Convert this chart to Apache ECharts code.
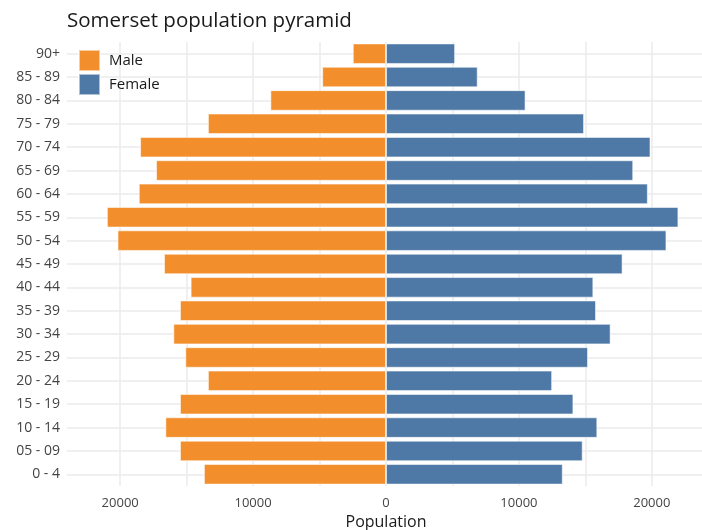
<!DOCTYPE html>
<html>
<head>
<meta charset="utf-8">
<script src="https://cdn.jsdelivr.net/npm/echarts@6/dist/echarts.min.js"></script>
<style>html,body{margin:0;padding:0;background:#fff}#c{width:702px;height:530px}</style>
</head>
<body>
<div id="c"></div>
<script>
const categories = ['0 - 4','05 - 09','10 - 14','15 - 19','20 - 24','25 - 29','30 - 34','35 - 39','40 - 44','45 - 49','50 - 54','55 - 59','60 - 64','65 - 69','70 - 74','75 - 79','80 - 84','85 - 89','90+'];
const male =   [13700,15500,16600,15500,13400,15100,16000,15500,14700,16700,20200,21000,18600,17300,18500,13400,8700,4800,2500];
const female = [13300,14800,15900,14100,12500,15200,16900,15800,15600,17800,21100,22000,19700,18600,19900,14900,10500,6900,5200];
const gridTicks = [-20000,-15000,-10000,-5000,0,5000,10000,15000,20000];
const labelTicks = [-20000,-10000,0,10000,20000];

const font = 'Open Sans';
const chart = echarts.init(document.getElementById('c'));
chart.setOption({
  animation: false,
  textStyle: {fontFamily: font},
  title: {text: 'Somerset population pyramid', left: 62, top: 6,
    textStyle: {fontFamily: font, fontSize: 20.5, fontWeight: 'normal', color: '#1a1a1a'}},
  legend: {orient: 'vertical', left: 73, top: 44, itemWidth: 21, itemHeight: 21, itemGap: 1,
    icon: 'rect', data: ['Male','Female'],
    textStyle: {fontFamily: font, fontSize: 15, color: '#1a1a1a', padding: [0,0,0,4]}},
  grid: {left: 67, right: -3, top: 42, bottom: 44, containLabel: false, outerBoundsMode: 'none'},
  xAxis: {type: 'value', min: -24000, max: 24000,
    name: 'Population', nameLocation: 'middle', nameGap: 28,
    nameTextStyle: {fontFamily: font, fontSize: 16, color: '#1a1a1a'},
    axisLine: {show: false},
    axisTick: {show: false, customValues: gridTicks},
    axisLabel: {customValues: labelTicks, margin: 11, fontSize: 13, color: '#444',
      formatter: v => String(Math.abs(v))},
    splitLine: {show: true, lineStyle: {color: '#ebebeb', width: 1.5}}},
  yAxis: {type: 'category', data: categories,
    axisLine: {show: false}, axisTick: {show: false},
    axisLabel: {fontSize: 14, color: '#444', margin: 7},
    splitLine: {show: false}},
  series: [
    {name: 'Male', type: 'bar', data: male.map(v => -v), barWidth: '88%', barGap: '-100%',
     itemStyle: {color: '#F28E2B', borderColor: 'rgba(255,255,255,0.55)', borderWidth: 1},
     markLine: {silent: true, symbol: 'none', label: {show: false},
       lineStyle: {color: '#ebebeb', width: 1.5, type: 'solid'},
       data: categories.map(c => ({yAxis: c})), z: 0},
     z: 2},
    {name: 'Female', type: 'bar', data: female, barWidth: '88%', barGap: '-100%',
     itemStyle: {color: '#4E79A7', borderColor: 'rgba(255,255,255,0.55)', borderWidth: 1},
     z: 2}
  ]
});
</script>
</body>
</html>
